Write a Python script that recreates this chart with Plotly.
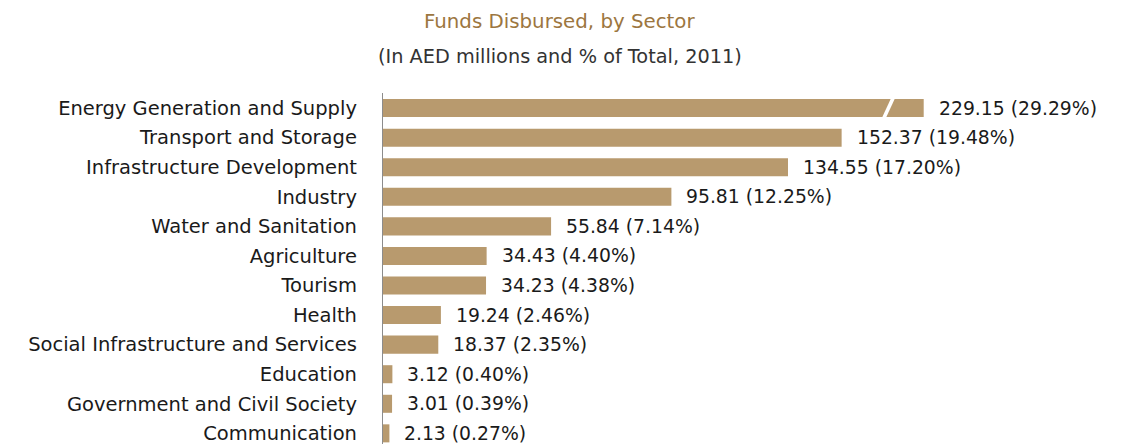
import plotly.graph_objects as go

# Sector disbursements (AED millions) and their share of the total, 2011
sectors = [
    "Energy Generation and Supply",
    "Transport and Storage",
    "Infrastructure Development",
    "Industry",
    "Water and Sanitation",
    "Agriculture",
    "Tourism",
    "Health",
    "Social Infrastructure and Services",
    "Education",
    "Government and Civil Society",
    "Communication",
]
amounts = [229.15, 152.37, 134.55, 95.81, 55.84, 34.43, 34.23, 19.24, 18.37, 3.12, 3.01, 2.13]
shares = [29.29, 19.48, 17.20, 12.25, 7.14, 4.40, 4.38, 2.46, 2.35, 0.40, 0.39, 0.27]

BAR = "#b89a6e"
TEXT = "#1a1a1a"
FONT = "DejaVu Sans"

W, H = 1128, 444
ML, MT = 383, 93
plot_w = W - ML
px_per_unit = 3.01

# Broken value axis: the first segment runs up to the break, the second
# segment carries the tail of the longest bar.
brk_lo_px, brk_hi_px = 883, 897
seg1_end = (brk_hi_px - ML) / px_per_unit
seg2_start = amounts[0] - (923.7 - brk_lo_px) / px_per_unit
seg2_end = seg2_start + (W - brk_lo_px) / px_per_unit

ypos = list(range(len(sectors)))

fig = go.Figure()
fig.add_trace(go.Bar(
    x=amounts, y=ypos, orientation="h", marker=dict(color=BAR, line=dict(width=0)),
    xaxis="x", yaxis="y", hoverinfo="skip", showlegend=False,
))
fig.add_trace(go.Bar(
    x=amounts[:1], y=ypos[:1], orientation="h", marker=dict(color=BAR, line=dict(width=0)),
    xaxis="x2", yaxis="y", hoverinfo="skip", showlegend=False,
))

annotations = []
for i, (v, p) in enumerate(zip(amounts, shares)):
    annotations.append(dict(
        x=v, y=ypos[i], xref="x2" if i == 0 else "x", yref="y",
        text=f"{v:.2f} ({p:.2f}%)", showarrow=False,
        xanchor="left", yanchor="middle", xshift=13,
        font=dict(family=FONT, size=18.8, color=TEXT),
    ))

fig.update_layout(
    width=W, height=H,
    margin=dict(l=ML, r=0, t=MT, b=0),
    paper_bgcolor="white", plot_bgcolor="white",
    bargap=0.39,
    xaxis=dict(domain=[0, seg1_end * px_per_unit / plot_w], range=[0, seg1_end],
               visible=False, fixedrange=True),
    xaxis2=dict(domain=[(brk_lo_px - ML) / plot_w, 1], range=[seg2_start, seg2_end],
                anchor="y", visible=False, fixedrange=True),
    yaxis=dict(
        range=[11.36, -0.51], tickvals=ypos, ticktext=sectors,
        showline=True, linecolor="#8c8c8c", linewidth=1.3,
        showgrid=False, zeroline=False, ticks="",
        ticklabelstandoff=21, ticklabeloverflow="allow",
        tickfont=dict(family=FONT, size=19.5, color=TEXT),
    ),
    annotations=annotations,
    shapes=[dict(
        type="path", xref="paper", yref="y", layer="above",
        path=(f"M {(brk_lo_px - 1 - ML) / plot_w} 0.33 "
              f"L {(brk_lo_px + 3 - ML) / plot_w} 0.33 "
              f"L {(brk_lo_px + 12 - ML) / plot_w} -0.33 "
              f"L {(brk_lo_px + 8 - ML) / plot_w} -0.33 Z"),
        fillcolor="white", line=dict(width=0),
    )],
)

# Title and subtitle
fig.add_annotation(
    text="Funds Disbursed, by Sector", xref="paper", yref="paper",
    x=(559 - ML) / plot_w, y=1 + (MT - 22) / (H - MT), xanchor="center", yanchor="middle",
    showarrow=False, font=dict(family=FONT, size=19.8, color="#9c7640"),
)
fig.add_annotation(
    text="(In AED millions and % of Total, 2011)", xref="paper", yref="paper",
    x=(560 - ML) / plot_w, y=1 + (MT - 57) / (H - MT), xanchor="center", yanchor="middle",
    showarrow=False, font=dict(family=FONT, size=19.3, color="#333333"),
)

fig.write_html("out.html")
